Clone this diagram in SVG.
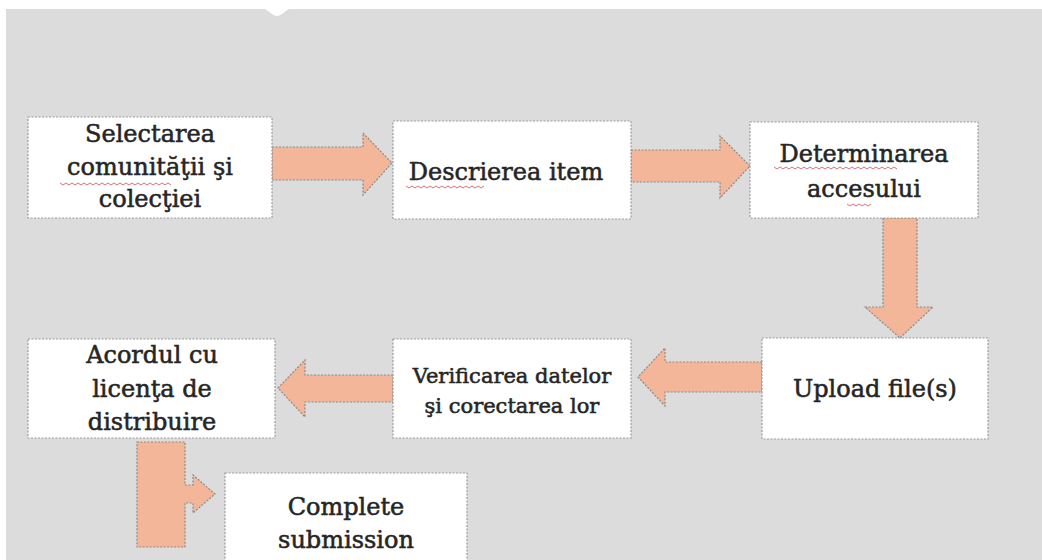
<svg xmlns="http://www.w3.org/2000/svg" width="1042" height="560" viewBox="0 0 1042 560">
<defs>
<style>
.box{fill:#ffffff;stroke:#9c9c9c;stroke-width:1.2;stroke-dasharray:2 1.5}
.arr{fill:#f3b699;stroke:#8a8a8a;stroke-width:1.2;stroke-dasharray:2 1.5}
.t{font-family:"DejaVu Serif","Liberation Serif",serif;font-size:24px;fill:#262626;stroke:#262626;stroke-width:0.55;text-anchor:middle}
.ts{font-size:21px}
.sq{fill:none;stroke:#d9707a;stroke-width:1}
</style>
</defs>
<rect x="0" y="0" width="1042" height="560" fill="#ffffff"/>
<rect x="6" y="9" width="1036" height="551" fill="#dcdcdc"/>
<path d="M264 8 L290 8 L282 14 Q277 18 272 14 Z" fill="#ffffff"/>

<g id="connectors">
<polygon class="arr" points="272,147 363,147 363,133 392,163 363,195 363,180 272,180"/>
<polygon class="arr" points="631,150 720,150 720,136 750,166 720,198 720,182 631,182"/>
<polygon class="arr" points="883,218 917,218 917,307 933,307 900,338 865,307 883,307"/>
<polygon class="arr" points="762,362 665,362 665,348 638,377 665,406 665,392 762,392"/>
<polygon class="arr" points="393,375 305,375 305,360 278,388 305,417 305,402 393,402"/>
<polygon class="arr" points="137,442 185,442 185,485 193,485 193,475 215,494 193,513 193,503 185,503 185,547 137,547"/>
</g>

<g id="n1">
<rect class="box" x="28" y="117" width="244" height="101"/>
<text class="t" x="150" y="142">Selectarea</text>
<text class="t" x="150" y="175">comunităţii şi</text>
<text class="t" x="150" y="207">colecţiei</text>
<path class="sq" d="M60 183 l3 2 l3 -2 l3 2 l3 -2 l3 2 l3 -2 l3 2 l3 -2 l3 2 l3 -2 l3 2 l3 -2 l3 2 l3 -2 l3 2 l3 -2 l3 2 l3 -2 l3 2 l3 -2 l3 2 l3 -2 l3 2 l3 -2 l3 2 l3 -2 l3 2 l3 -2 l3 2 l3 -2 l3 2 l3 -2 l3 2 l3 -2 l3 2 l3 -2 l3 2"/>
</g>

<g id="n2">
<rect class="box" x="393" y="121" width="238" height="98"/>
<text class="t" x="506" y="180">Descrierea item</text>
<path class="sq" d="M406 186 l3 2 l3 -2 l3 2 l3 -2 l3 2 l3 -2 l3 2 l3 -2 l3 2 l3 -2 l3 2 l3 -2 l3 2 l3 -2 l3 2 l3 -2 l3 2 l3 -2 l3 2 l3 -2 l3 2 l3 -2 l3 2 l3 -2 l3 2 l3 -2"/>
</g>

<g id="n3">
<rect class="box" x="750" y="122" width="228" height="96"/>
<text class="t" x="864" y="162">Determinarea</text>
<text class="t" x="864" y="197">accesului</text>
<path class="sq" d="M774 167 l3 2 l3 -2 l3 2 l3 -2 l3 2 l3 -2 l3 2 l3 -2 l3 2 l3 -2 l3 2 l3 -2 l3 2 l3 -2 l3 2 l3 -2 l3 2 l3 -2 l3 2 l3 -2 l3 2 l3 -2 l3 2 l3 -2 l3 2 l3 -2 l3 2 l3 -2 l3 2 l3 -2 l3 2 l3 -2 l3 2 l3 -2 l3 2 l3 -2 l3 2 l3 -2 l3 2 l3 -2 l3 2"/>
<path class="sq" d="M847 204 l3 2 l3 -2 l3 2 l3 -2 l3 2 l3 -2 l3 2 l3 -2"/>
</g>

<g id="n4">
<rect class="box" x="762" y="338" width="226" height="101"/>
<text class="t" x="875" y="397">Upload file(s)</text>
</g>

<g id="n5">
<rect class="box" x="393" y="339" width="238" height="99"/>
<text class="t ts" x="512" y="383">Verificarea datelor</text>
<text class="t ts" x="512" y="413">şi corectarea lor</text>
</g>

<g id="n6">
<rect class="box" x="28" y="339" width="247" height="99"/>
<text class="t" x="152" y="363">Acordul cu</text>
<text class="t" x="152" y="397">licenţa de</text>
<text class="t" x="152" y="430">distribuire</text>
</g>

<g id="n7">
<rect class="box" x="225" y="473" width="242" height="100"/>
<text class="t" x="346" y="515">Complete</text>
<text class="t" x="346" y="548">submission</text>
</g>
</svg>
